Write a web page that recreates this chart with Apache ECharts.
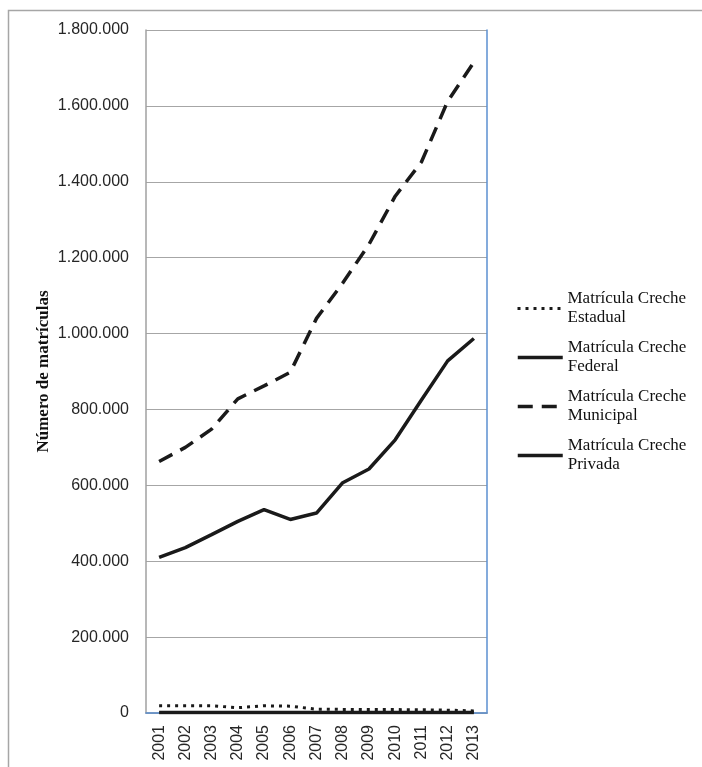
<!DOCTYPE html>
<html>
<head>
<meta charset="utf-8">
<script src="https://cdn.jsdelivr.net/npm/echarts@6/dist/echarts.min.js"></script>
<style>
html,body{margin:0;padding:0;background:#fff;}
#chart{width:702px;height:767px;}
</style>
</head>
<body>
<div id="chart"></div>
<script>
const years = ['2001','2002','2003','2004','2005','2006','2007','2008','2009','2010','2011','2012','2013'];
const estadual = [19000,19000,19000,14000,19000,18000,10000,9500,9000,9000,8500,7500,5500];
const federal = [1500,1500,1500,1500,1500,1500,1500,1500,1500,1500,1500,1500,1500];
const municipal = [663000,700000,748000,828000,862000,898000,1040000,1133000,1235000,1362000,1452000,1612000,1715000];
const privada = [410000,436000,470000,505000,536000,510000,527000,607000,643000,720000,825000,928000,987000];
const seriesNames = ['Matrícula Creche Estadual','Matrícula Creche Federal','Matrícula Creche Municipal','Matrícula Creche Privada'];
const yMax = 1800000, yStep = 200000;

const chart = echarts.init(document.getElementById('chart'));
const lineColor = '#1a1a1a';
function fmt(v){ return String(v).replace(/\B(?=(\d{3})+(?!\d))/g,'.'); }
function legendFor(i, top, w){
  return {
    data:[seriesNames[i]], left:516, top:top, padding:0,
    itemWidth:45, itemHeight:20,
    itemStyle:{opacity:0},
    lineStyle:{width:w},
    formatter: n => n.replace('Creche ','Creche\n'),
    textStyle:{fontFamily:'Liberation Serif', fontSize:17, lineHeight:19, color:'#111', padding:[19,0,0,0]}
  };
}
const option = {
  animation:false,
  graphic:[{type:'rect', shape:{x:8.5,y:10.5,width:800,height:800}, style:{fill:'none', stroke:'#a6a6a6', lineWidth:1.5}, silent:true}],
  grid:{left:146, right:215, top:30, bottom:54},
  legend:[legendFor(0,280,3), legendFor(1,329,3.5), legendFor(2,378,3.5), legendFor(3,427,3.5)],
  xAxis:[{
    type:'category', data:years, boundaryGap:true,
    axisLine:{lineStyle:{color:'#a0a0a0', width:1.5}},
    axisTick:{show:false},
    axisLabel:{rotate:90, margin:12, fontFamily:'Liberation Sans', fontSize:16, color:'#262626'}
  },{
    type:'category', data:years, position:'top',
    axisLine:{lineStyle:{color:'#5b8fd0', width:1.5}},
    axisTick:{show:false}, axisLabel:{show:false}
  }],
  yAxis:[{
    type:'value', min:0, max:yMax, interval:yStep,
    name:'Número de matrículas', nameLocation:'middle', nameGap:94, nameRotate:90,
    nameTextStyle:{fontFamily:'Liberation Serif', fontWeight:'bold', fontSize:17, color:'#111'},
    axisLine:{show:true, lineStyle:{color:'#a0a0a0', width:1.5}},
    axisTick:{show:false},
    axisLabel:{margin:17, fontFamily:'Liberation Sans', fontSize:16, color:'#262626', formatter:fmt},
    splitLine:{lineStyle:{color:'#a6a6a6', width:1}}
  },{
    type:'value', min:0, max:yMax, interval:yStep, position:'right',
    axisLine:{show:true, lineStyle:{color:'#5b8fd0', width:1.5}},
    axisTick:{show:false}, axisLabel:{show:false}, splitLine:{show:false}
  }],
  series:[
    {name:seriesNames[0], type:'line', data:estadual, symbol:'none', z:3,
     lineStyle:{color:lineColor, width:3, type:[3,5]}, itemStyle:{color:lineColor}},
    {name:seriesNames[1], type:'line', data:federal, symbol:'none', z:4,
     lineStyle:{color:lineColor, width:3.5}, itemStyle:{color:lineColor}},
    {name:seriesNames[2], type:'line', data:municipal, symbol:'none', z:3,
     lineStyle:{color:lineColor, width:3.5, type:[15,9]}, itemStyle:{color:lineColor}},
    {name:seriesNames[3], type:'line', data:privada, symbol:'none', z:3,
     lineStyle:{color:lineColor, width:3.5}, itemStyle:{color:lineColor}}
  ]
};
chart.setOption(option);
</script>
</body>
</html>
